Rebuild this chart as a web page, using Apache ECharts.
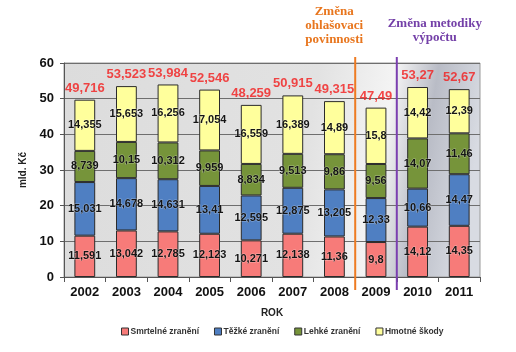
<!DOCTYPE html>
<html>
<head>
<meta charset="utf-8">
<script src="https://cdn.jsdelivr.net/npm/echarts@6/dist/echarts.min.js"></script>
<style>
  html, body { margin: 0; padding: 0; background: #fff; }
  #chart { width: 516px; height: 352px; }
</style>
</head>
<body>
<div id="chart"></div>
<script>
// data (mld. Kč)
const years = ['2002', '2003', '2004', '2005', '2006', '2007', '2008', '2009', '2010', '2011']
const smrtelne = [11.591, 13.042, 12.785, 12.123, 10.271, 12.138, 11.36, 9.8, 14.12, 14.35]
const tezke = [15.031, 14.678, 14.631, 13.41, 12.595, 12.875, 13.205, 12.33, 10.66, 14.47]
const lehke = [8.739, 10.15, 10.312, 9.959, 8.834, 9.513, 9.86, 9.56, 14.07, 11.46]
const hmotne = [14.355, 15.653, 16.256, 17.054, 16.559, 16.389, 14.89, 15.8, 14.42, 12.39]
const totals = [49.716, 53.523, 53.984, 52.546, 48.259, 50.915, 49.315, 47.49, 53.27, 52.67]
const seriesNames = ['Smrtelné zranění', 'Těžké zranění', 'Lehké zranění', 'Hmotné škody']
// boundaries between categories where the method changed
const breaks = [7, 8]

const font = 'Liberation Sans, Arial, sans-serif'
const comma = v => String(v).replace('.', ',')

const chart = echarts.init(document.getElementById('chart'))

function barSeries(name, data, color) {
  return {
    name: name,
    type: 'bar',
    stack: 'total',
    barWidth: '50%',
    data: data,
    itemStyle: { color: color, borderColor: '#2b2b2b', borderWidth: 1 },
    label: {
      show: true,
      position: 'inside',
      formatter: p => comma(p.value),
      color: '#151515',
      fontFamily: font,
      fontWeight: 'bold',
      fontSize: 11,
      textBorderColor: 'rgba(255,255,255,0.35)',
      textBorderWidth: 1
    },
    emphasis: { disabled: true }
  }
}

chart.setOption({
  animation: false,
  grid: {
    left: 64,
    right: 36,
    top: 63,
    bottom: 75,
    show: true,
    borderColor: '#9a9a9a',
    borderWidth: 1,
    backgroundColor: {
      type: 'linear', x: 0, y: 0, x2: 1, y2: 0.3,
      colorStops: [
        { offset: 0, color: '#dcdcdc' },
        { offset: 0.6, color: '#e2e2e2' },
        { offset: 0.78, color: '#f4f4f4' },
        { offset: 0.88, color: '#b9bcc6' },
        { offset: 1, color: '#d8dbe2' }
      ]
    }
  },
  legend: {
    data: seriesNames,
    bottom: 11,
    left: 116,
    itemWidth: 7,
    itemHeight: 7,
    itemGap: 15,
    icon: 'rect',
    itemStyle: { borderColor: '#333', borderWidth: 1 },
    textStyle: { fontFamily: font, fontWeight: 'bold', fontSize: 8.5, color: '#333', padding: [0, 0, 0, -3] }
  },
  xAxis: {
    type: 'category',
    data: years,
    name: 'ROK',
    nameLocation: 'middle',
    nameGap: 31,
    nameTextStyle: { fontFamily: font, fontWeight: 'bold', fontSize: 10, color: '#222' },
    axisLine: { lineStyle: { color: '#555' } },
    axisTick: { show: true, length: 5, lineStyle: { color: '#555' } },
    axisLabel: { fontFamily: font, fontWeight: 'bold', fontSize: 13, color: '#111', margin: 9 }
  },
  yAxis: {
    type: 'value',
    min: 0,
    max: 60,
    interval: 10,
    name: 'mld. Kč',
    nameLocation: 'middle',
    nameGap: 26,
    nameRotate: 90,
    nameTextStyle: { fontFamily: font, fontWeight: 'bold', fontSize: 10, color: '#222' },
    axisLine: { show: true, lineStyle: { color: '#555' } },
    axisTick: { show: true, length: 4, lineStyle: { color: '#555' } },
    axisLabel: { fontFamily: font, fontWeight: 'bold', fontSize: 13, color: '#111', margin: 10 },
    splitLine: { lineStyle: { color: '#6e6e6e', width: 1 } }
  },
  series: [
    barSeries(seriesNames[0], smrtelne, '#f77b79'),
    barSeries(seriesNames[1], tezke, '#4f7fc2'),
    barSeries(seriesNames[2], lehke, '#76943a'),
    barSeries(seriesNames[3], hmotne, '#ffff9c'),
    {
      name: 'celkem',
      type: 'scatter',
      data: totals,
      symbolSize: 0,
      silent: true,
      label: {
        show: true,
        position: 'top',
        distance: 5,
        formatter: p => comma(p.value),
        color: '#f21c1c',
        fontFamily: font,
        fontWeight: 'bold',
        fontSize: 13
      }
    }
  ]
})

// vertical separator lines and notes, placed through the axis scales
function drawBreaks() {
  const top = chart.convertToPixel({ yAxisIndex: 0 }, 60)
  const bottom = chart.convertToPixel({ yAxisIndex: 0 }, 0)
  const x0 = chart.convertToPixel({ xAxisIndex: 0 }, years[breaks[0] - 1])
  const x1 = chart.convertToPixel({ xAxisIndex: 0 }, years[breaks[0]])
  const x2 = chart.convertToPixel({ xAxisIndex: 0 }, years[breaks[1]])
  const b1 = (x0 + x1) / 2
  const b2 = (x1 + x2) / 2
  const noteFont = 'bold 13px "Liberation Serif", "DejaVu Serif", serif'
  chart.setOption({
    graphic: [
      { type: 'line', shape: { x1: b1, y1: top - 6, x2: b1, y2: bottom + 13 }, style: { stroke: '#ee7b22', lineWidth: 2 }, z: 10 },
      { type: 'line', shape: { x1: b2, y1: top - 6, x2: b2, y2: bottom + 13 }, style: { stroke: '#7b3fb0', lineWidth: 2 }, z: 10 },
      {
        type: 'text', x: b1 - 21, y: 5,
        style: { text: 'Změna\nohlašovaci\npovinnosti', font: noteFont, fill: '#e8761e', align: 'center', lineHeight: 14 }
      },
      {
        type: 'text', x: b2 + 38, y: 17,
        style: { text: 'Změna metodiky\nvýpočtu', font: noteFont, fill: '#7440a8', align: 'center', lineHeight: 14 }
      }
    ]
  })
}
drawBreaks()
</script>
</body>
</html>
